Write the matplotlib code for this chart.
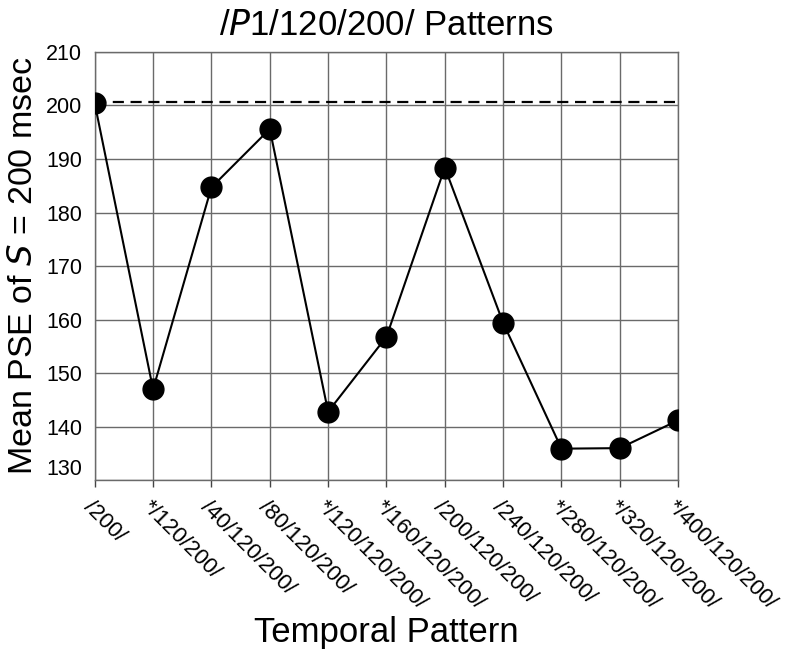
import matplotlib.pyplot as plt

plt.rcParams['font.family'] = ['Liberation Sans', 'DejaVu Sans']

# Temporal patterns on the x axis (asterisk marks the significant ones)
patterns = ['/200/', '*/120/200/', '/40/120/200/', '/80/120/200/',
            '*/120/120/200/', '*/160/120/200/', '/200/120/200/',
            '/240/120/200/', '*/280/120/200/', '*/320/120/200/',
            '*/400/120/200/']
# Mean PSE values (msec)
mean_pse = [200.4, 147.0, 184.7, 195.6, 142.8, 156.8, 188.4, 159.4, 135.9, 136.0, 141.2]
reference_pse = 200.6
yticks = [130, 140, 150, 160, 170, 180, 190, 200, 210]

fig = plt.figure(figsize=(7.96, 6.49), dpi=100)
ax = fig.add_axes([0.119, 0.260, 0.733, 0.660])

x = list(range(len(patterns)))

# grid first so the data sits on top
ax.grid(True, color='#6a6a6a', linewidth=1.0)
ax.set_axisbelow(True)

ax.plot([x[0], x[-1]], [reference_pse, reference_pse], color='black',
        linestyle=(0, (5, 3)), linewidth=1.6, zorder=3)
ax.plot(x, mean_pse, color='black', linewidth=1.5, marker='o',
        markersize=15, markerfacecolor='black', zorder=4)

ax.set_xlim(0, 10)
ax.set_ylim(130, 210)
ax.set_yticks(yticks)
ax.set_xticks(x)
ax.set_xticklabels(patterns, rotation=-45, ha='left', va='top',
                   rotation_mode='anchor', fontsize=16)
ax.tick_params(axis='x', length=5, width=1, color='#444444', pad=7)
ax.tick_params(axis='y', length=0, labelsize=15.5, pad=9)
# bottom label sits a little higher, clear of the axis line
ax.get_yticklabels()[0].set_va('bottom')

for s in ax.spines.values():
    s.set_color('#6a6a6a')
    s.set_linewidth(1.0)

ax.set_title('/$\\it{P}$1/120/200/ Patterns', fontsize=25, pad=12)
ax.set_ylabel('Mean PSE of $\\it{S}$ = 200 msec', fontsize=24.5, labelpad=5)
fig.text(0.485, 0.011, 'Temporal Pattern', fontsize=25, ha='center', va='baseline')

fig.savefig('out.png', dpi=100)
